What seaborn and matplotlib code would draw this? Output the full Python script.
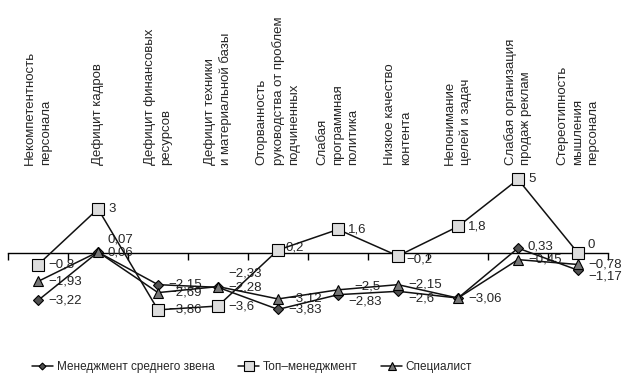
import numpy as np
import pandas as pd
import matplotlib
matplotlib.use("Agg")
import matplotlib.pyplot as plt
from matplotlib.transforms import blended_transform_factory
import seaborn as sns

categories = [
    "Некомпетентность\nперсонала",
    "Дефицит кадров",
    "Дефицит финансовых\nресурсов",
    "Дефицит техники\nи материальной базы",
    "Оторванность\nруководства от проблем\nподчиненных",
    "Слабая\nпрограммная\nполитика",
    "Низкое качество\nконтента",
    "Непонимание\nцелей и задач",
    "Слабая организация\nпродаж реклам",
    "Стереотипность\nмышления\nперсонала",
]
middle_mgmt = [-3.22, 0.06, -2.15, -2.33, -3.83, -2.83, -2.6, -3.06, 0.33, -1.17]
top_mgmt = [-0.8, 3, -3.86, -3.6, 0.2, 1.6, -0.2, 1.8, 5, 0]
specialist = [-1.93, 0.07, -2.69, -2.28, -3.12, -2.5, -2.15, -3.06, -0.45, -0.78]
series_names = ["Менеджмент среднего звена", "Топ–менеджмент", "Специалист"]

sns.set_style("white")
plt.rcParams["font.family"] = ["Liberation Sans", "DejaVu Sans"]

fig = plt.figure(figsize=(6.4, 3.86), dpi=100)
ax = fig.add_axes([8 / 640, (386 - 334) / 386, 600 / 640, 162 / 386])

x = np.arange(len(categories))
data = [middle_mgmt, top_mgmt, specialist]
markers = ["D", "s", "^"]
sizes = [5, 8, 7]
faces = ["#505050", "#dddddd", "#777777"]

for vals, name, m, s, f in zip(data, series_names, markers, sizes, faces):
    sns.lineplot(x=x, y=vals, ax=ax, color="#111111", lw=1.1, marker=m,
                 markersize=s, markerfacecolor=f, markeredgecolor="black",
                 markeredgewidth=0.8, estimator=None, sort=False,
                 label=name, zorder=5)

def fmt(v):
    return ("%g" % v).replace(".", ",").replace("-", "−")

# label offsets in pixels (dx, dy); default right of the point
offsets = {
    (0, 1): (10, 0), (2, 1): (10, 12),
    (0, 3): (10, 14), (2, 3): (10, -1),
    (1, 4): (8, 3),
    (2, 5): (16, 3), (0, 5): (10, -7),
    (1, 6): (8, -4), (0, 6): (10, -7),
    (0, 8): (10, 2),
    (1, 9): (10, 8), (2, 9): (10, 0), (0, 9): (10, -6),
}
skip = {(2, 7)}
for si, vals in enumerate(data):
    for i, v in enumerate(vals):
        if (si, i) in skip:
            continue
        dx, dy = offsets.get((si, i), (10, 0))
        ax.annotate(fmt(v), (x[i], v), xytext=(dx, dy), textcoords="offset pixels",
                    ha="left", va="center", fontsize=9.5, zorder=4)

ax.set_xlim(-0.5, len(categories) - 0.5)
ax.set_ylim(-5.5, 5.5)
for s in ["top", "left", "right"]:
    ax.spines[s].set_visible(False)
ax.spines["bottom"].set_position(("data", 0))
ax.spines["bottom"].set_color("black")
ax.spines["bottom"].set_linewidth(1)
ax.set_xticks(np.arange(-0.5, len(categories), 1.0))
ax.set_xticklabels([])
ax.tick_params(axis="x", direction="out", length=5, width=1, color="black", bottom=True)
ax.set_yticks([])
ax.set_xlabel("")
ax.set_ylabel("")

trans = blended_transform_factory(ax.transData, fig.transFigure)
for i, lab in enumerate(categories):
    ax.text(x[i], (386 - 165) / 386, lab, transform=trans, rotation=90,
            ha="center", va="bottom", ma="left", fontsize=9.5, linespacing=1.4)

leg = ax.legend(loc="center",
                bbox_to_anchor=(252 / 640, 1 - 367 / 386),
                bbox_transform=fig.transFigure, ncol=3, frameon=False,
                handlelength=1.8, handletextpad=0.3, columnspacing=2.0,
                fontsize=8.5)
for h, s in zip(leg.legend_handles, sizes):
    h.set_markersize(s - 1.5)
    h.set_color("#111111")

fig.savefig("out.png", dpi=100)
